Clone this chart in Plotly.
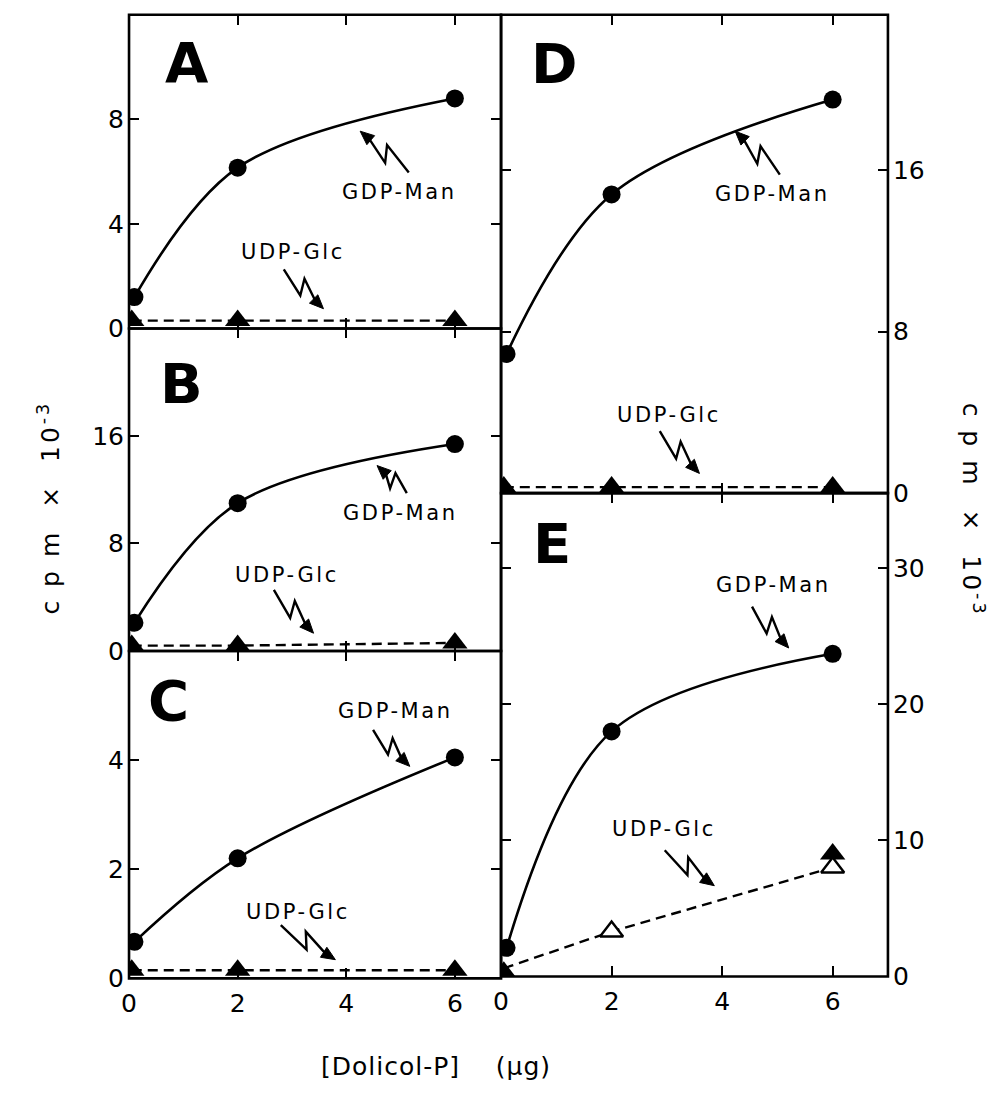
import math
import plotly.graph_objects as go

# ---------------------------------------------------------------- data
# Dolicol-P added (ug)
dose_circ = [0.1, 2, 6]
dose_tri = [0.05, 2, 6]

# cpm x 10^-3, GDP-Man (filled circles) and UDP-Glc (filled triangles)
gdp_A = [1.2, 6.15, 8.8]
udp_A = [0.3, 0.3, 0.3]
gdp_B = [2.1, 11.0, 15.4]
udp_B = [0.4, 0.4, 0.6]
gdp_C = [0.67, 2.2, 4.05]
udp_C = [0.15, 0.15, 0.15]
gdp_D = [6.9, 14.8, 19.5]
udp_D = [0.3, 0.3, 0.3]
gdp_E = [2.1, 18.0, 23.7]

# panel E, UDP-Glc
udp_E_filled_x = [0.05, 6]
udp_E_filled = [0.3, 9.0]
udp_E_open_x = [2, 6]
udp_E_open = [3.3, 8.0]
udp_E_line_x = [0.05, 2, 6]
udp_E_line = [0.6, 3.3, 8.0]

x_ticks = [0, 2, 4, 6]
y_ticks_A = [0, 4, 8]
y_ticks_B = [0, 8, 16]
y_ticks_C = [0, 2, 4]
y_ticks_D = [0, 8, 16]
y_ticks_E = [0, 10, 20, 30]

# ---------------------------------------------------------------- layout geometry
W, H = 1005, 1096
FONT = "DejaVu Sans"
INK = "black"


def px(x, y):
    """pixel position -> paper fraction (margins are zero)"""
    return x / W, 1 - y / H


# name: (left, right, top, bottom) in pixels, x max, y max, side of y labels
panels = {
    "A": dict(box=(122, 497, 15, 333), xmax=6.85, ymax=12.0, side="left", yt=y_ticks_A, xlab=False),
    "B": dict(box=(122, 497, 333, 660), xmax=6.85, ymax=24.0, side="left", yt=y_ticks_B, xlab=False),
    "C": dict(box=(122, 497, 660, 992), xmax=6.85, ymax=6.0, side="left", yt=y_ticks_C, xlab=True),
    "D": dict(box=(497, 887, 15, 500), xmax=7.0, ymax=23.7, side="right", yt=y_ticks_D, xlab=False),
    "E": dict(box=(497, 887, 500, 990), xmax=7.0, ymax=35.5, side="right", yt=y_ticks_E, xlab=True),
}

series = {
    "A": (gdp_A, udp_A),
    "B": (gdp_B, udp_B),
    "C": (gdp_C, udp_C),
    "D": (gdp_D, udp_D),
    "E": (gdp_E, None),
}

fig = go.Figure()
layout = dict(
    width=W, height=H,
    margin=dict(l=0, r=0, t=0, b=0),
    paper_bgcolor="white", plot_bgcolor="white",
    showlegend=False,
    font=dict(family=FONT, color=INK),
)

tickfont = dict(family=FONT, size=25, color=INK)
shapes = []
annotations = []

for i, (name, p) in enumerate(panels.items(), start=1):
    x0, x1, y0, y1 = p["box"]
    xa, ya = f"xaxis{i}", f"yaxis{i}"
    xr, yr = f"x{i}", f"y{i}"
    layout[xa] = dict(
        domain=[x0 / W, x1 / W], range=[0, p["xmax"]], anchor=yr,
        tickvals=x_ticks, showticklabels=p["xlab"], tickfont=tickfont,
        ticks="inside", ticklen=10, tickwidth=2.2, tickcolor=INK,
        ticklabelstandoff=8,
        showline=False, mirror="ticks",
        showgrid=False, zeroline=False, fixedrange=True,
    )
    layout[ya] = dict(
        domain=[1 - y1 / H, 1 - y0 / H], range=[0, p["ymax"]], anchor=xr,
        side=p["side"], tickvals=p["yt"], tickfont=tickfont,
        ticks="inside", ticklen=10, tickwidth=2.2, tickcolor=INK,
        ticklabelstandoff=4,
        showline=False, mirror="ticks",
        showgrid=False, zeroline=False, fixedrange=True,
    )
    # panel frame; shared edges coincide exactly
    fx0, fy0 = px(x0, y1)
    fx1, fy1 = px(x1, y0)
    shapes.append(dict(type="rect", xref="paper", yref="paper",
                       x0=fx0, y0=fy0, x1=fx1, y1=fy1,
                       line=dict(color=INK, width=2.6), layer="above"))

    gdp, udp = series[name]
    # GDP-Man: solid smooth curve with filled circles
    fig.add_trace(go.Scatter(
        x=dose_circ, y=gdp, xaxis=xr, yaxis=yr, mode="lines+markers",
        line=dict(color=INK, width=2.6, shape="spline", smoothing=1.0),
        marker=dict(symbol="circle", size=18, color=INK),
        name="GDP-Man", hoverinfo="skip",
    ))
    if udp is not None:
        # UDP-Glc: dashed line with filled triangles
        fig.add_trace(go.Scatter(
            x=dose_tri, y=udp, xaxis=xr, yaxis=yr, mode="lines+markers",
            line=dict(color=INK, width=2.4, dash="10px,6px"),
            marker=dict(symbol="triangle-up", size=22, color=INK),
            name="UDP-Glc", hoverinfo="skip",
        ))

# panel E UDP-Glc: dashed line, open and filled triangles
fig.add_trace(go.Scatter(
    x=udp_E_line_x, y=udp_E_line, xaxis="x5", yaxis="y5", mode="lines",
    line=dict(color=INK, width=2.4, dash="10px,6px"), hoverinfo="skip",
))
fig.add_trace(go.Scatter(
    x=udp_E_filled_x, y=udp_E_filled, xaxis="x5", yaxis="y5", mode="markers",
    marker=dict(symbol="triangle-up", size=22, color=INK), hoverinfo="skip",
))
fig.add_trace(go.Scatter(
    x=udp_E_open_x, y=udp_E_open, xaxis="x5", yaxis="y5", mode="markers",
    marker=dict(symbol="triangle-up", size=20, color="white",
                line=dict(color=INK, width=2.4)), hoverinfo="skip",
))

# panel letters
letters = {"A": (180, 63), "B": (175, 389), "C": (162, 710), "D": (550, 64), "E": (548, 551)}
for t, (lx, ly) in letters.items():
    x, y = px(lx, ly)
    annotations.append(dict(
        x=x, y=y, xref="paper", yref="paper", text=f"<b>{t}</b>", showarrow=False,
        xanchor="center", yanchor="middle",
        font=dict(family=FONT, size=56, color=INK),
    ))

# substrate labels with lightning arrows: text centre, arrow tip, arrow tail (pixels)
labels = [
    ("GDP-Man", (395, 195), (355, 133), (404, 175)),
    ("UDP-Glc", (287, 256), (318, 313), (278, 273)),
    ("GDP-Man", (396, 520), (372, 472), (402, 500)),
    ("UDP-Glc", (281, 583), (308, 642), (268, 598)),
    ("GDP-Man", (391, 721), (405, 777), (368, 740)),
    ("UDP-Glc", (292, 925), (330, 973), (275, 938)),
    ("GDP-Man", (771, 197), (733, 133), (778, 177)),
    ("UDP-Glc", (666, 421), (697, 480), (657, 437)),
    ("GDP-Man", (772, 593), (787, 657), (750, 615)),
    ("UDP-Glc", (661, 841), (712, 898), (662, 862)),
]


def bolt(tip, tail):
    """zig-zag arrow: shaft points and arrowhead triangle, in pixels"""
    tx, ty = tip
    sx, sy = tail
    dx, dy = sx - tx, sy - ty
    L = math.hypot(dx, dy)
    ux, uy = dx / L, dy / L
    vx, vy = -uy, ux
    a = (tx + 0.62 * L * ux + 8 * vx, ty + 0.62 * L * uy + 8 * vy)
    b = (tx + 0.46 * L * ux - 7 * vx, ty + 0.46 * L * uy - 7 * vy)
    # arrowhead
    hl, hw = 14, 6
    base = (tx + hl * ux, ty + hl * uy)
    h1 = (base[0] + hw * vx, base[1] + hw * vy)
    h2 = (base[0] - hw * vx, base[1] - hw * vy)
    # shaft ends inside the head so the point stays sharp
    c = (tx + (hl - 2) * ux, ty + (hl - 2) * uy)
    return [tail, b, a, c], [tip, h1, h2]


def path_of(points, close=False):
    pts = [px(*q) for q in points]
    s = "M " + " L ".join(f"{u:.5f},{v:.5f}" for u, v in pts)
    return s + (" Z" if close else "")


for text, (cx, cy), tip, tail in labels:
    x, y = px(cx, cy)
    annotations.append(dict(
        x=x, y=y, xref="paper", yref="paper", showarrow=False,
        text=f'<span style="letter-spacing:2.6px">{text}</span>',
        xanchor="center", yanchor="middle",
        font=dict(family=FONT, size=21, color=INK),
    ))
    shaft, head = bolt(tip, tail)
    shapes.append(dict(type="path", path=path_of(shaft), xref="paper", yref="paper",
                       line=dict(color=INK, width=2.4)))
    shapes.append(dict(type="path", path=path_of(head, close=True), xref="paper", yref="paper",
                       line=dict(color=INK, width=1), fillcolor=INK))

# axis titles
ylab = '<span style="letter-spacing:3px">c p m  ×  10<sup>-3</sup></span>'
x, y = px(42, 515)
annotations.append(dict(x=x, y=y, xref="paper", yref="paper", text=ylab, showarrow=False,
                        textangle=-90, xanchor="center", yanchor="middle",
                        font=dict(family=FONT, size=25, color=INK)))
x, y = px(972, 517)
annotations.append(dict(x=x, y=y, xref="paper", yref="paper", text=ylab, showarrow=False,
                        textangle=90, xanchor="center", yanchor="middle",
                        font=dict(family=FONT, size=25, color=INK)))
x, y = px(431, 1081)
annotations.append(dict(x=x, y=y, xref="paper", yref="paper",
                        text='<span style="letter-spacing:1px">[Dolicol-P]\u00a0\u00a0\u00a0\u00a0(\u00b5g)</span>',
                        showarrow=False, xanchor="center", yanchor="middle",
                        font=dict(family=FONT, size=25, color=INK)))

layout["annotations"] = annotations
layout["shapes"] = shapes
fig.update_layout(**layout)
fig.write_html("out.html")
